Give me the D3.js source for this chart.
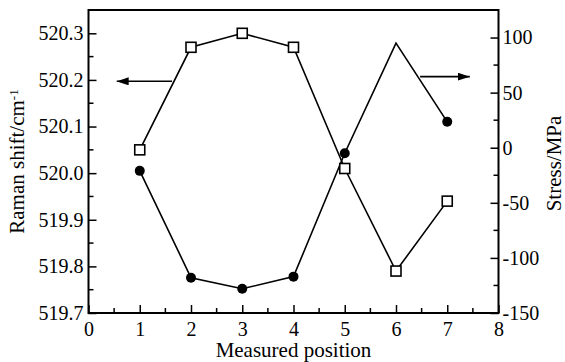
<!DOCTYPE html>
<html>
<head>
<meta charset="utf-8">
<script src="https://cdn.jsdelivr.net/npm/d3@7"></script>
<style>
  html, body { margin: 0; padding: 0; background: #fff; }
  svg { display: block; }
  svg text { font-family: "Liberation Serif", "Times New Roman", serif !important; fill: #000; }
</style>
</head>
<body>
<script>
// Measured positions along the sample
const positions = [1, 2, 3, 4, 5, 6, 7];
// Raman shift (cm^-1) at each position, open squares, left axis
const ramanShift = [520.05, 520.27, 520.30, 520.27, 520.01, 519.79, 519.94];
// Stress (MPa) at each position, filled circles, right axis
const stress = [-21, -118, -128, -117, -5, 95, 23.5];
// Positions where a stress marker is plotted
const stressMarked = [1, 2, 3, 4, 5, 7];

const xTicks = [0, 1, 2, 3, 4, 5, 6, 7, 8];
const leftTicks = [519.7, 519.8, 519.9, 520.0, 520.1, 520.2, 520.3];
const rightTicks = [-150, -100, -50, 0, 50, 100];

const W = 565, H = 362;
const margin = { left: 88.5, right: 66.5, top: 10, bottom: 49 };
const iw = W - margin.left - margin.right;
const ih = H - margin.top - margin.bottom;
const serif = "Liberation Serif, Times New Roman, serif";

const svg = d3.select("body").append("svg").attr("width", W).attr("height", H)
  .attr("font-family", serif);
const g = svg.append("g").attr("transform", `translate(${margin.left},${margin.top})`);

const x = d3.scaleLinear().domain([0, 8]).range([0, iw]);
const yL = d3.scaleLinear().domain([519.7, 520.35]).range([ih, 0]);
const yR = d3.scaleLinear().domain([-150, 125]).range([ih, 0]);

const stroke = "#000";
const fs = 20;

// Minor ticks (inward)
const minor = g.append("g").attr("stroke", stroke).attr("stroke-width", 1.5);
d3.range(0.5, 8, 1).forEach(v => {
  minor.append("line").attr("x1", x(v)).attr("x2", x(v)).attr("y1", ih).attr("y2", ih - 5);
});
d3.range(519.75, 520.35, 0.1).forEach(v => {
  minor.append("line").attr("x1", 0).attr("x2", 5).attr("y1", yL(v)).attr("y2", yL(v));
});
d3.range(-125, 125, 50).forEach(v => {
  minor.append("line").attr("x1", iw).attr("x2", iw - 5).attr("y1", yR(v)).attr("y2", yR(v));
});

// Axes with inward major ticks
const xAxis = g.append("g").attr("transform", `translate(0,${ih})`)
  .call(d3.axisBottom(x).tickValues(xTicks).tickSizeInner(-8).tickSizeOuter(0).tickPadding(14).tickFormat(d3.format("d")));
const lAxis = g.append("g")
  .call(d3.axisLeft(yL).tickValues(leftTicks).tickSizeInner(-8).tickSizeOuter(0).tickPadding(14).tickFormat(d3.format(".1f")));
const rAxis = g.append("g").attr("transform", `translate(${iw},0)`)
  .call(d3.axisRight(yR).tickValues(rightTicks).tickSizeInner(-8).tickSizeOuter(0).tickPadding(13).tickFormat(d => d));

[xAxis, lAxis, rAxis].forEach(a => {
  a.attr("font-family", serif).attr("font-size", fs);
  a.selectAll("path").remove();
  a.selectAll("line").attr("stroke", stroke).attr("stroke-width", 1.5);
  a.selectAll("text").attr("font-family", serif).attr("font-size", fs).attr("fill", "#000");
});
rAxis.selectAll("text").attr("x", 4);
xAxis.selectAll("text").attr("y", 9).attr("dy", "0.71em");
lAxis.selectAll("text").attr("x", -5);

// Frame
g.append("rect").attr("x", 0).attr("y", 0).attr("width", iw).attr("height", ih)
  .attr("fill", "none").attr("stroke", stroke).attr("stroke-width", 2);

// Stress line and circles
const stressPts = positions.map((p, i) => [p, stress[i]]);
g.append("path").datum(stressPts)
  .attr("fill", "none").attr("stroke", stroke).attr("stroke-width", 1.6)
  .attr("d", d3.line().x(d => x(d[0])).y(d => yR(d[1])));
g.selectAll("circle.st").data(stressPts.filter(d => stressMarked.includes(d[0])))
  .join("circle").attr("class", "st")
  .attr("cx", d => x(d[0])).attr("cy", d => yR(d[1])).attr("r", 5).attr("fill", "#000");

// Raman shift line and squares
const ramanPts = positions.map((p, i) => [p, ramanShift[i]]);
g.append("path").datum(ramanPts)
  .attr("fill", "none").attr("stroke", stroke).attr("stroke-width", 1.6)
  .attr("d", d3.line().x(d => x(d[0])).y(d => yL(d[1])));
const sq = 10;
g.selectAll("rect.rs").data(ramanPts).join("rect").attr("class", "rs")
  .attr("x", d => x(d[0]) - sq / 2).attr("y", d => yL(d[1]) - sq / 2)
  .attr("width", sq).attr("height", sq)
  .attr("fill", "#fff").attr("stroke", stroke).attr("stroke-width", 1.6);

// Arrows pointing to the axis each series belongs to
const defs = svg.append("defs");
defs.append("marker").attr("id", "head").attr("viewBox", "0 0 12 8")
  .attr("refX", 12).attr("refY", 4).attr("markerWidth", 12).attr("markerHeight", 8)
  .attr("markerUnits", "userSpaceOnUse").attr("orient", "auto")
  .append("path").attr("d", "M0,0 L12,4 L0,8 Z").attr("fill", "#000");

g.append("line")
  .attr("x1", x(1.63)).attr("x2", x(0.55)).attr("y1", yL(520.197)).attr("y2", yL(520.197))
  .attr("stroke", stroke).attr("stroke-width", 1.6).attr("marker-end", "url(#head)");
g.append("line")
  .attr("x1", x(6.47)).attr("x2", x(7.44)).attr("y1", yR(64.5)).attr("y2", yR(64.5))
  .attr("stroke", stroke).attr("stroke-width", 1.6).attr("marker-end", "url(#head)");

// Axis titles
svg.append("text")
  .attr("x", margin.left + iw / 2).attr("y", 357)
  .attr("text-anchor", "middle").attr("font-size", 21)
  .text("Measured position");

const lt = svg.append("text")
  .attr("transform", `translate(24,${margin.top + ih / 2}) rotate(-90)`)
  .attr("text-anchor", "middle").attr("font-size", 21);
lt.append("tspan").text("Raman shift/cm");
lt.append("tspan").attr("dy", "-0.45em").attr("font-size", 13).text("-1");

svg.append("text")
  .attr("transform", `translate(561,${margin.top + ih / 2 + 2}) rotate(-90)`)
  .attr("text-anchor", "middle").attr("font-size", 21)
  .text("Stress/MPa");
</script>
</body>
</html>
